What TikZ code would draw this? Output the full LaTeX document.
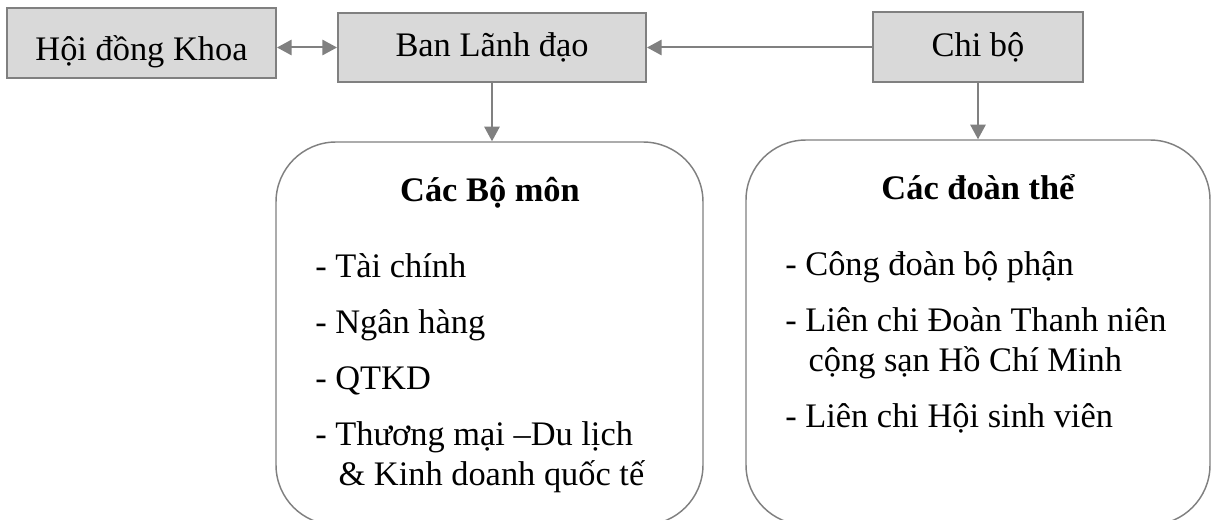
\documentclass[tikz,border=0pt]{standalone}
\usepackage{fontspec}
\setmainfont{Liberation Serif}
\usetikzlibrary{positioning,arrows.meta}
\definecolor{boxgray}{HTML}{D9D9D9}
\definecolor{linegray}{HTML}{808080}
\newcommand\bodysize{\fontsize{25.8}{30}\selectfont}

\begin{document}
\begin{tikzpicture}[
  x=0.75pt,y=-0.75pt,
  font=\bodysize,
  unit/.style={rectangle,draw=linegray,fill=boxgray,line width=1.5pt,text height=19pt,text depth=6pt},
  group/.style={rectangle,draw=linegray,rounded corners=45pt,line width=1.1pt},
  title/.style={anchor=base,font=\bodysize\bfseries},
  list/.style={anchor=base west,align=left,inner sep=0pt},
  arrow/.style={-{Triangle[length=11pt,width=11.5pt]},line width=1.5pt,draw=linegray}
]
\useasboundingbox (0,0) rectangle (1211,520);
% top row
\node[unit,minimum width=201.75pt,minimum height=52.5pt,text height=32pt,text depth=5pt] (hdk) at (141.5,43) {Hội đồng Khoa};
\node[unit,minimum width=231pt,minimum height=51.75pt] (bld) at (492,47.5) {Ban Lãnh đạo};
\node[unit,minimum width=157.5pt,minimum height=52.5pt] (cb) at (978,47.5) {Chi bộ};
% lower groups
\node[group,minimum width=320.25pt,minimum height=287.25pt] (bm) at (489.5,333.5) {};
\node[group,minimum width=348pt,minimum height=288.75pt] (dt) at (978,332.5) {};
\node[title] (bmtitle) at (490,202) {Các Bộ môn};
\node[title] (dttitle) at (978,200) {Các đoàn thể};
\node[list] (bmlist) at (315,485) {- Tài chính\\[12pt]- Ngân hàng\\[12pt]- QTKD\\[12pt]- Thương mại –Du lịch\\\hspace*{17.5pt}\& Kinh doanh quốc tế};
\node[list] (dtlist) at (785,427) {- Công đoàn bộ phận\\[12pt]- Liên chi Đoàn Thanh niên\\\hspace*{17.5pt}cộng sạn Hồ Chí Minh\\[12pt]- Liên chi Hội sinh viên};
% connectors
\draw[arrow,{Triangle[length=11pt,width=11.5pt]}-{Triangle[length=11pt,width=11.5pt]}] (hdk.east |- bld.west) -- (bld.west);
\draw[arrow] (cb.west) -- (bld.east);
\draw[arrow] (bld.south) -- (bld.south |- bm.north);
\draw[arrow] (cb.south) -- (cb.south |- dt.north);
\end{tikzpicture}
\end{document}
